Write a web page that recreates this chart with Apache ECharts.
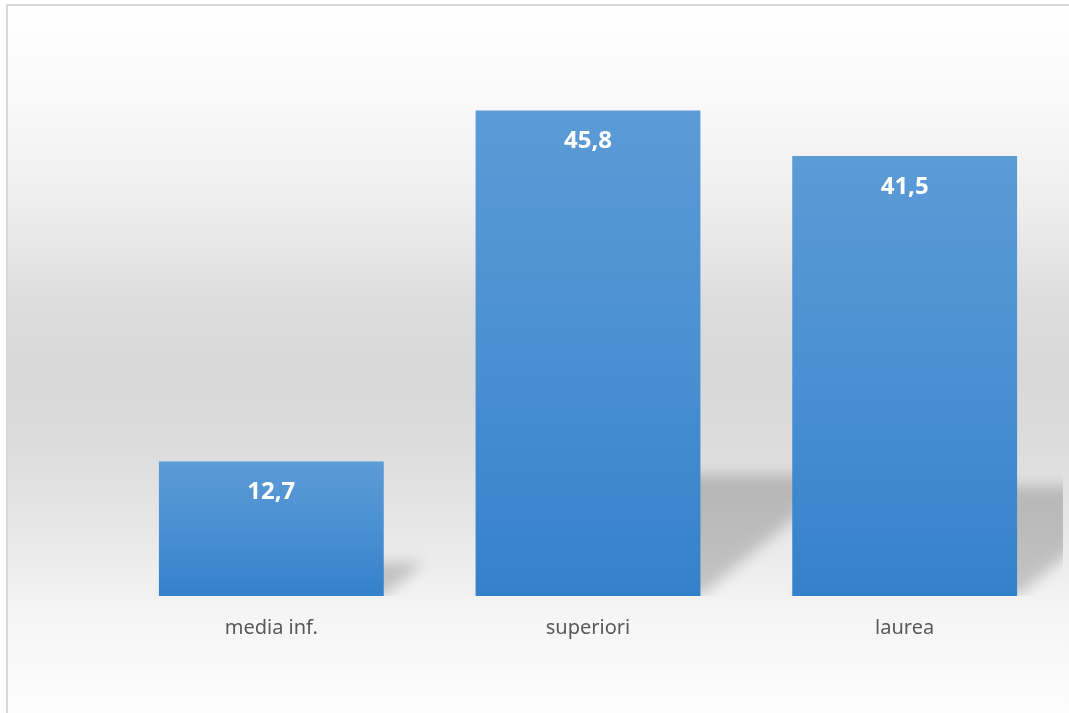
<!DOCTYPE html>
<html>
<head>
<meta charset="utf-8">
<script src="https://cdn.jsdelivr.net/npm/echarts@6/dist/echarts.min.js"></script>
<style>
  html, body { margin: 0; padding: 0; background: #fff; overflow: hidden; }
  #main {
    position: absolute; left: 6px; top: 4px;
    width: 1061px; height: 707px;
    border-left: 2px solid #d9d9d9; border-top: 2px solid #d9d9d9;
  }
</style>
</head>
<body>
<div id="main"></div>
<script>
var categories = ['media inf.', 'superiori', 'laurea'];
var values = [12.7, 45.8, 41.5];

var chart = echarts.init(document.getElementById('main'));

// ombra "a pavimento" dietro le barre (solo l'ombra sfocata è visibile)
var OFF = 3000;
function renderShadow(params, api) {
  var idx = api.value(0);
  var base = api.coord([idx, 0]);
  var top = api.coord([idx, api.value(1)]);
  var bw = api.size([1, 0])[0] * 0.71;
  var x0 = base[0] - bw / 2 - OFF, x1 = base[0] + bw / 2 - OFF;
  var h = (base[1] - top[1]) * 0.25;
  var dx = h * 1.2;
  return {
    type: 'polygon',
    shape: { points: [[x0, base[1]], [x1, base[1]], [x1 + dx, base[1] - h], [x0 + dx, base[1] - h]] },
    style: {
      fill: '#000',
      shadowBlur: 14,
      shadowOffsetX: OFF,
      shadowColor: 'rgba(0,0,0,0.19)'
    }
  };
}

var option = {
  backgroundColor: new echarts.graphic.LinearGradient(0, 0, 0, 1, [
    { offset: 0, color: '#ffffff' },
    { offset: 0.12, color: '#fafafa' },
    { offset: 0.28, color: '#eeeeee' },
    { offset: 0.42, color: '#dddddd' },
    { offset: 0.52, color: '#d8d8d8' },
    { offset: 0.62, color: '#dcdcdc' },
    { offset: 0.75, color: '#e8e8e8' },
    { offset: 0.86, color: '#f5f5f5' },
    { offset: 1, color: '#fdfdfd' }
  ]),
  grid: { left: 105, right: 6, top: 60, bottom: 117 },
  xAxis: {
    type: 'category',
    data: categories,
    axisLine: { show: false },
    axisTick: { show: false },
    axisLabel: {
      color: '#595959',
      fontSize: 20,
      fontFamily: 'Noto Sans',
      margin: 22
    }
  },
  yAxis: {
    type: 'value',
    min: 0,
    max: 50,
    show: false,
    splitLine: { show: false }
  },
  series: [
    {
      type: 'custom',
      renderItem: renderShadow,
      clip: true,
      z: 1,
      silent: true,
      data: values.map(function (v, i) { return [i, v]; })
    },
    {
      type: 'bar',
      data: values,
      barWidth: '71%',
      z: 2,
      itemStyle: {
        color: new echarts.graphic.LinearGradient(0, 0, 0, 1, [
          { offset: 0, color: '#5b9bd6' },
          { offset: 0.5, color: '#4a90d2' },
          { offset: 1, color: '#3481cb' }
        ])
      },
      label: {
        show: true,
        position: 'insideTop',
        distance: 19,
        color: '#ffffff',
        fontSize: 24,
        fontWeight: 'bold',
        fontFamily: 'Noto Sans',
        formatter: function (p) { return String(p.value).replace('.', ','); }
      }
    }
  ]
};

chart.setOption(option);
window.addEventListener('resize', function () { chart.resize(); });
</script>
</body>
</html>
